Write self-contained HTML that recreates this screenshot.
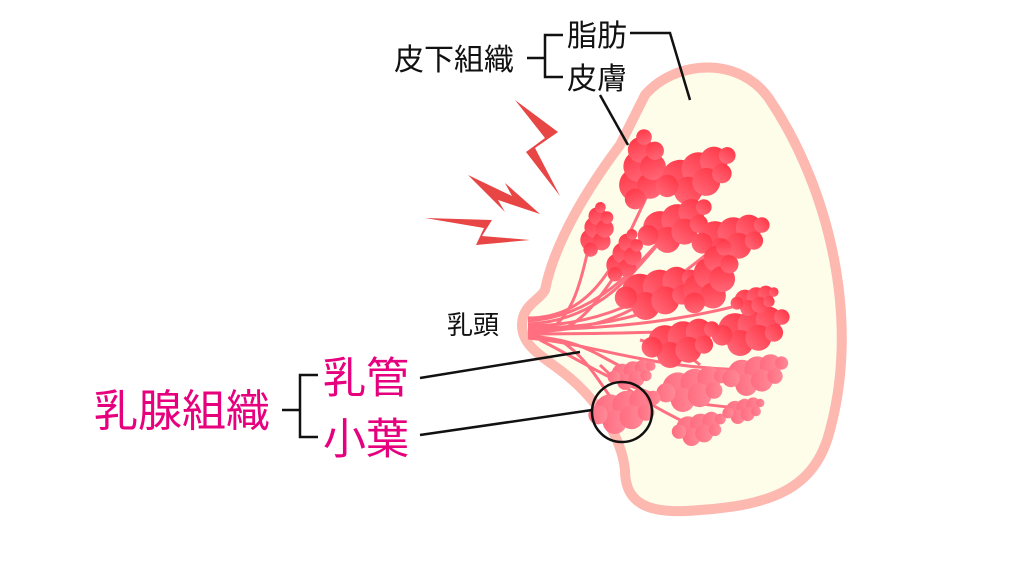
<!DOCTYPE html>
<html><head><meta charset="utf-8"><style>
html,body{margin:0;padding:0;background:#fff;}
svg{display:block;font-family:"Liberation Sans","Noto Sans CJK JP",sans-serif;}
</style></head><body>
<svg width="1024" height="576" viewBox="0 0 1024 576">
<defs>
<linearGradient id="g" x1="0" y1="1" x2="1" y2="0"><stop offset="0" stop-color="#ff7080"/><stop offset="1" stop-color="#ff3040"/></linearGradient>
<linearGradient id="g2" x1="0" y1="0" x2="1" y2="0"><stop offset="0" stop-color="#ff6c80"/><stop offset="1" stop-color="#ff8a98"/></linearGradient>
<g id="cl"><circle cx="0" cy="0" r="13"/><circle cx="14" cy="-4" r="12"/><circle cx="26" cy="-8" r="10"/><circle cx="36" cy="-10" r="6"/><circle cx="4" cy="10" r="10"/><circle cx="18" cy="6" r="10"/><circle cx="-10" cy="4" r="8"/><circle cx="30" cy="2" r="7"/></g>
</defs>
<path d="M645,95 C675,60 740,55 770,100 C830,190 860,320 830,430 C815,490 770,505 700,510 C650,515 625,505 625,470 C622,440 600,400 560,370 C540,355 522,345 522,325 C522,305 540,300 545,290 C555,240 590,185 620,145 Z" fill="#fdfdea" stroke="#fdb8b0" stroke-width="10"/>
<g fill="#e84545">
<polygon points="515,100 558,132 535,148 560,196 526,152 545,138"/>
<polygon points="468,175 512,196 505,183 540,214 498,200 505,212"/>
<polygon points="425,218 492,220 482,236 530,240 476,245 484,228"/>
</g>
<g stroke="#ff6f80" stroke-width="3" fill="none">
<path d="M528,318 C600,318 620,250 650,190"/><path d="M528,321 C620,315 660,230 720,175"/>
<path d="M528,324 C610,320 640,260 680,220"/><path d="M528,326 C650,325 700,250 735,235"/>
<path d="M528,328 C640,328 680,300 720,270"/><path d="M528,330 C660,328 720,310 760,300"/>
<path d="M528,332 C620,330 640,300 670,290"/><path d="M528,334 C640,334 700,330 760,330"/>
<path d="M545,332 C570,320 580,290 590,240"/><path d="M560,330 C590,320 610,280 625,262"/>
<path d="M528,336 C590,340 600,360 640,375"/><path d="M528,338 C600,345 650,370 760,370"/>
<path d="M560,340 C590,360 600,385 620,410"/><path d="M540,340 C600,370 630,400 740,408"/>
<path d="M600,365 C630,395 660,410 690,425"/><path d="M640,340 C660,345 690,355 700,365"/>
</g>
<g fill="url(#g)">
<g transform="translate(636,185) rotate(-65) scale(1.3)"><use href="#cl"/></g>
<g transform="translate(680,178) rotate(-10) scale(1.4)"><use href="#cl"/></g>
<g transform="translate(660,228) rotate(-10) scale(1.3)"><use href="#cl"/></g>
<g transform="translate(715,238) scale(1.3)"><use href="#cl"/></g>
<g transform="translate(640,292) scale(1.4)"><use href="#cl"/></g>
<g transform="translate(700,290) rotate(-45) scale(1.3)"><use href="#cl"/></g>
<g transform="translate(735,330) scale(1.3)"><use href="#cl"/></g>
<g transform="translate(745,300) scale(0.8)"><use href="#cl"/></g>
<g transform="translate(665,342) scale(1.3)"><use href="#cl"/></g>
<g transform="translate(592,240) rotate(-60) scale(0.9)"><use href="#cl"/></g>
<g transform="translate(618,265) rotate(-50) scale(0.9)"><use href="#cl"/></g>
</g>
<g fill="url(#g2)">
<g transform="translate(678,388) scale(1.2)"><use href="#cl"/></g>
<g transform="translate(742,374) scale(1.1)"><use href="#cl"/></g>
<g transform="translate(610,410) scale(1.2)"><use href="#cl"/></g>
<g transform="translate(622,374) scale(0.8)"><use href="#cl"/></g>
<g transform="translate(688,428) scale(0.9)"><use href="#cl"/></g>
<g transform="translate(735,410) scale(0.7)"><use href="#cl"/></g>
</g>
<g stroke="#111" stroke-width="2.5" fill="none">
<circle cx="622" cy="412" r="30"/>
<line x1="420" y1="378" x2="580" y2="352"/>
<line x1="420" y1="435" x2="592" y2="410"/>
<polyline points="282,410 300,410"/><polyline points="318,375 300,375 300,437 318,437"/>
<polyline points="527,58 545,58"/><polyline points="563,35 545,35 545,77 563,77"/>
<polyline points="630,33 670,33 690,100"/>
<line x1="600" y1="95" x2="628" y2="145"/>
</g>
<g fill="#111">
<text x="394" y="70" font-size="30">皮下組織</text>
<text x="567" y="46" font-size="30">脂肪</text>
<text x="567" y="89" font-size="30">皮膚</text>
<text x="447" y="334" font-size="26">乳頭</text>
</g>
<g fill="#e6007e">
<text x="94" y="426" font-size="44">乳腺組織</text>
<text x="323" y="393" font-size="43">乳管</text>
<text x="323" y="454" font-size="43">小葉</text>
</g>
</svg>
</body></html>
